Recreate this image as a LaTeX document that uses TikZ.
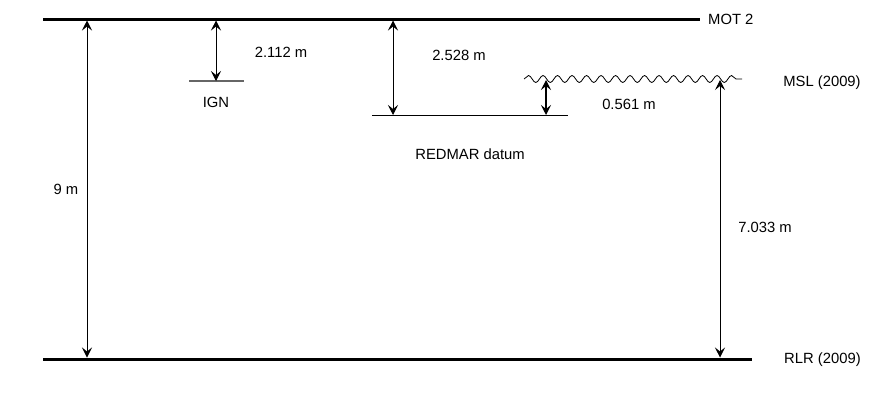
\documentclass[tikz,border=0pt]{standalone}
\usepackage{fontspec}
\setmainfont{Liberation Sans}
\usetikzlibrary{arrows.meta, positioning, decorations.pathmorphing}

\begin{document}
\begin{tikzpicture}[
    x=1pt, y=-1pt,
    font=\fontsize{14.8}{16}\selectfont,
    level/.style={line width=3pt},
    datum/.style={line width=1pt},
    sea/.style={line width=0.8pt, decorate,
                decoration={snake, segment length=14.5pt, amplitude=3.5pt}},
    dim/.style={{Stealth[length=10pt,width=10pt,inset=4pt]}-{Stealth[length=10pt,width=10pt,inset=4pt]},
                line width=0.8pt},
    lbl/.style={inner sep=0pt},
  ]
  \useasboundingbox (0,0) rectangle (875,400);

  % reference levels
  \coordinate (motL) at (43,19);
  \coordinate (motR) at (700,19);
  \coordinate (rlrL) at (43,359);
  \coordinate (rlrR) at (752,359);
  \draw[level] (motL) -- (motR);
  \draw[level] (rlrL) -- (rlrR);
  \node[lbl, anchor=west] (mot) at (708,19) {MOT 2};
  \node[lbl, anchor=west] (rlr) at (784,360) {RLR (2009)};

  % intermediate datums
  \coordinate (ignL) at (189,81);
  \coordinate (ignR) at (244,81);
  \coordinate (redL) at (372,115);
  \coordinate (redR) at (568,115);
  \coordinate (mslL) at (524,79);
  \coordinate (mslR) at (742,79);
  \draw[datum, gray!80!black, line width=1.5pt] (ignL) -- (ignR);
  \draw[datum] (redL) -- (redR);
  \draw[sea] (mslL) -- (mslR);
  \node[lbl] (ign) at (216,102) {IGN};
  \node[lbl] (red) at (470,154) {REDMAR datum};
  \node[lbl] (msl) at (822,83) {MSL (2009)};

  % dimension arrows
  \coordinate (a9) at (87,359);
  \coordinate (aign) at (216,81);
  \coordinate (ared) at (393,115);
  \coordinate (ared2) at (546,115);
  \coordinate (amsl) at (546,80);
  \coordinate (a7) at (720,80);
  \draw[dim, shorten <=1.5pt, shorten >=1.5pt] (a9 |- motL) -- (a9);
  \draw[dim, shorten <=1.5pt] (aign |- motL) -- (aign);
  \draw[dim, shorten <=1.5pt] (ared |- motL) -- (ared);
  \draw[dim, line width=1.3pt] (amsl) -- (ared2);
  \draw[dim, shorten >=1.5pt] (a7) -- (a7 |- rlrL);
  \node[lbl] (d9) at (66,189) {9 m};
  \node[lbl] (dign) at (281,52) {2.112 m};
  \node[lbl] (dred) at (459,55) {2.528 m};
  \node[lbl] (dmsl) at (629,104) {0.561 m};
  \node[lbl] (d7) at (765,227) {7.033 m};
\end{tikzpicture}
\end{document}
